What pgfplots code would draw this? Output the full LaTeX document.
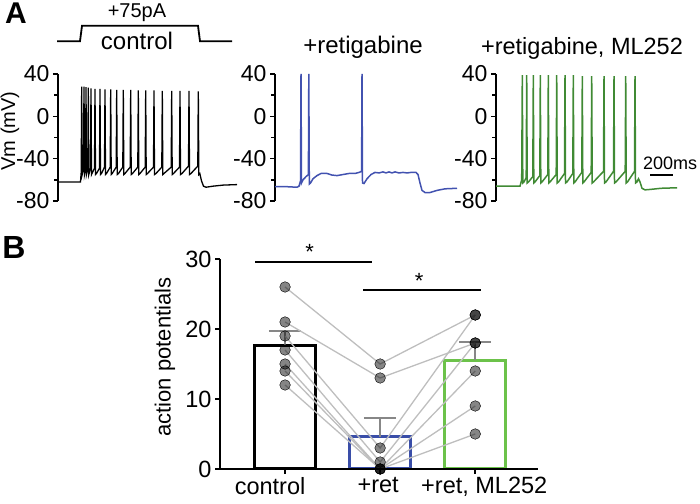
\documentclass[border=0pt]{standalone}
\usepackage{fontspec}
\setmainfont{Liberation Sans}
\usepackage{pgfplots}
\pgfplotsset{compat=1.18}

\definecolor{tblue}{RGB}{66,82,176}
\definecolor{tgreen}{RGB}{64,138,52}
\definecolor{bblue}{RGB}{58,78,168}
\definecolor{bgreen}{RGB}{108,194,74}
\definecolor{errgray}{RGB}{135,135,135}
\definecolor{linkgray}{RGB}{190,190,190}

\pgfplotsset{
  trace/.style={
    scale only axis, width=182bp, height=127bp,
    xmin=0, xmax=182, ymin=-80, ymax=40,
    axis x line=none, axis y line*=left,
    axis line style={-, line width=1.8bp},
    ytick={-80,-40,0,40}, yticklabels={-80,-40,0,40},
    minor ytick={-60,-20,20},
    tick align=outside,
    major tick length=5bp, minor tick length=4bp,
    tick style={black, line width=1.5bp},
    yticklabel style={font=\fontsize{23bp}{25bp}\selectfont},
    clip=false,
  },
}

\begin{document}
\begin{tikzpicture}[x=1bp,y=1bp]
\path[use as bounding box] (0,0) rectangle (700,504);

% ---- panel A: control ----
\begin{axis}[trace, at={(58bp,303bp)}, anchor=south west]
% current step
\addplot[black, line width=1.8bp, mark=none]
  coordinates {(-1,71)(22,71)(24,85.5)(140,85.5)(142,71)(174,71)};
\addplot[black, line width=1.3bp, mark=none] coordinates {
(0,-62) (22.5,-62) (23.2,-53) (23.7,28) (24.2,-55)
(25.5,-50) (26,28) (26.5,-55)
(27.6,-50) (28,27.5) (28.5,-55)
(29.8,-50) (30.3,27) (30.8,-55)
(32.5,-49) (33,26.5) (33.5,-55)
(36.5,-49) (37,26) (37.5,-55) (38.5,-54)
(41.5,-49) (42,26) (42.5,-55) (43.5,-54)
(46.5,-48) (47,25.5) (47.5,-55) (48.5,-54)
(52.2,-48) (52.7,25.5) (53.2,-55) (54.2,-54)
(58.2,-48) (58.7,25) (59.2,-55) (60.5,-54)
(64.8,-48) (65.3,25) (65.8,-55) (67,-54)
(72.2,-48) (72.7,25) (73.2,-55) (74.5,-54)
(79.8,-48) (80.3,24.5) (80.8,-55) (82,-54)
(87.2,-48) (87.7,24.5) (88.2,-55) (89.5,-54)
(95.5,-48) (96,24.5) (96.5,-55) (98,-54)
(103.8,-48) (104.3,24) (104.8,-55) (106,-54)
(113.2,-48) (113.7,24) (114.2,-55) (115.5,-54)
(121.5,-48) (122,24) (122.5,-55) (124,-54)
(130.5,-47) (131,24) (131.5,-55) (133,-54)
(139.8,-47) (140.3,23.5) (140.8,-55) (141.8,-54) (143.5,-61)
(145.5,-66) (148,-67) (155,-66) (165,-65) (179,-64.5)
};
\end{axis}

% ---- panel A: +retigabine ----
\begin{axis}[trace, at={(275bp,303bp)}, anchor=south west]
\addplot[tblue, line width=1.5bp, mark=none] coordinates {
(0,-66.5) (12,-66.5) (22,-67) (24,-66) (25.5,-61) (26,40) (26.5,-63)
(28,-60) (31,-57) (33.4,-55) (33.8,40) (34.3,-64) (35.5,-63) (38,-59)
(42,-56) (46,-54) (52,-54) (57,-55.5) (62,-56) (68,-55) (74,-54) (80,-54)
(84,-53) (86.6,-52) (87,40) (87.5,-63) (89,-63.5) (92,-59) (96,-55)
(100,-53) (104,-53.5) (108,-52.5) (111,-53.5) (114,-52.5) (117,-53.5)
(120,-52.5) (124,-53.5) (128,-53) (132,-53.5) (136,-53) (141,-53)
(143,-55) (145,-63) (147,-70) (150,-72) (155,-72) (162,-70) (170,-68.5)
(182,-68)
};
\end{axis}

% ---- panel A: +retigabine, ML252 ----
\begin{axis}[trace, at={(496bp,303bp)}, anchor=south west]
\addplot[tgreen, line width=1.5bp, mark=none] coordinates {
(0,-66) (24,-66) (25.7,-60) (26.3,39) (26.8,-63) (28,-62)
(30.2,-58) (30.7,39) (31.2,-63) (32.5,-62)
(36.8,-57) (37.3,39) (37.8,-63) (39,-62)
(43.8,-56) (44.3,39) (44.8,-63) (46,-62)
(51.8,-55) (52.3,39) (52.8,-63) (54,-62)
(60.2,-55) (60.7,39) (61.2,-63) (62.5,-62)
(68.5,-54) (69,39) (69.5,-63) (71,-62)
(76.8,-54) (77.3,39) (77.8,-63) (79,-62)
(85.8,-53) (86.3,38) (86.8,-63) (88,-62)
(95.2,-53) (95.7,38) (96.2,-63) (97.5,-62)
(107.5,-52) (108,38) (108.5,-63) (110,-62)
(117.5,-52) (118,38) (118.5,-63) (120,-62)
(129.2,-52) (129.7,38) (130.2,-63) (131.5,-62)
(138.5,-52) (139,38) (139.5,-63) (141,-62) (142.5,-59) (144,-62)
(146,-68) (149,-69.5) (155,-69) (165,-68) (181,-67.5)
};
% 200 ms scale bar
\addplot[black, line width=1.8bp, mark=none] coordinates {(154,-55.5)(177,-55.5)};
\node[font=\fontsize{18bp}{20bp}\selectfont, inner sep=0pt] at (axis cs:174,-44) {200ms};
\end{axis}

% ---- panel B ----
\begin{axis}[
  scale only axis, width=318bp, height=210bp,
  at={(220bp,35bp)}, anchor=south west,
  xmin=-0.684, xmax=2.66, ymin=0, ymax=30,
  axis x line*=bottom, axis y line*=left,
  axis line style={-, line width=2.5bp},
  axis on top,
  xtick={0,1,2},
  xticklabels={{control\hspace*{30bp}},{+ret\hspace*{4bp}},{\hspace*{18bp}+ret, ML252}},
  ytick={0,10,20,30}, yticklabels={0,10,20,30},
  tick align=outside, major tick length=5bp,
  tick style={black, line width=1.8bp},
  ticklabel style={font=\fontsize{23.5bp}{26bp}\selectfont},
  clip=false,
]
\addplot[ybar, bar width=0.64, bar shift=0pt, draw=black, fill=white, line width=3bp] coordinates {(0,17.7)};
\addplot[ybar, bar width=0.64, bar shift=0pt, draw=bblue, fill=white, line width=3bp] coordinates {(1,4.6)};
\addplot[ybar, bar width=0.64, bar shift=0pt, draw=bgreen, fill=white, line width=3bp] coordinates {(2,15.5)};
% error bars (mean + SEM)
\addplot[errgray, line width=2bp, mark=none] coordinates {(0,17.7)(0,19.7)};
\addplot[errgray, line width=2bp, mark=none] coordinates {(-0.17,19.7)(0.17,19.7)};
\addplot[errgray, line width=2bp, mark=none] coordinates {(1,4.6)(1,7.3)};
\addplot[errgray, line width=2bp, mark=none] coordinates {(0.83,7.3)(1.17,7.3)};
\addplot[errgray, line width=2bp, mark=none] coordinates {(2,15.5)(2,18.1)};
\addplot[errgray, line width=2bp, mark=none] coordinates {(1.83,18.1)(2.17,18.1)};
% paired cells
\addplot[linkgray, line width=1.3bp, mark=none] coordinates {(0,26)(1,15)(2,22)};
\addplot[linkgray, line width=1.3bp, mark=none] coordinates {(0,21)(1,13)(2,18)};
\addplot[linkgray, line width=1.3bp, mark=none] coordinates {(0,19)(1,3)(2,22)};
\addplot[linkgray, line width=1.3bp, mark=none] coordinates {(0,17)(1,1)(2,18)};
\addplot[linkgray, line width=1.3bp, mark=none] coordinates {(0,15)(1,0)(2,14)};
\addplot[linkgray, line width=1.3bp, mark=none] coordinates {(0,14)(1,0)(2,9)};
\addplot[linkgray, line width=1.3bp, mark=none] coordinates {(0,12)(1,0)(2,5)};
\addplot[only marks, mark=*, mark size=5.3bp, mark options={draw=none, fill=black, fill opacity=0.48}]
  coordinates {(0,26)(0,21)(0,19)(0,17)(0,15)(0,14)(0,12)
               (1,15)(1,13)(1,3)(1,1)(1,0)(1,0)(1,0)
               (2,22)(2,22)(2,18)(2,18)(2,14)(2,9)(2,5)};
% significance
\addplot[black, line width=2bp, mark=none] coordinates {(-0.315,29.5)(0.915,29.5)};
\addplot[black, line width=2bp, mark=none] coordinates {(0.82,25.5)(2.06,25.5)};
\node[font=\fontsize{22bp}{24bp}\selectfont, inner sep=0pt] at (axis cs:0.26,31.0) {*};
\node[font=\fontsize{22bp}{24bp}\selectfont, inner sep=0pt] at (axis cs:1.41,26.9) {*};
\end{axis}

% labels
\node[font=\fontsize{30bp}{32bp}\selectfont\bfseries, inner sep=0pt] at (16,491) {A};
\node[font=\fontsize{32bp}{34bp}\selectfont\bfseries, inner sep=0pt] at (14,257) {B};
\node[font=\fontsize{20bp}{22bp}\selectfont, inner sep=0pt] at (137,491) {+75pA};
\node[font=\fontsize{24bp}{26bp}\selectfont, inner sep=0pt] at (137,463) {control};
\node[font=\fontsize{24bp}{26bp}\selectfont, inner sep=0pt] at (363,456.5) {+retigabine};
\node[font=\fontsize{23.5bp}{26bp}\selectfont, inner sep=0pt] at (582,455.5) {+retigabine, ML252};
\node[font=\fontsize{20bp}{22bp}\selectfont, inner sep=0pt, rotate=90] at (10,373) {Vm (mV)};
\node[font=\fontsize{22bp}{24bp}\selectfont, inner sep=0pt, rotate=90] at (165,147) {action potentials};
\end{tikzpicture}
\end{document}
